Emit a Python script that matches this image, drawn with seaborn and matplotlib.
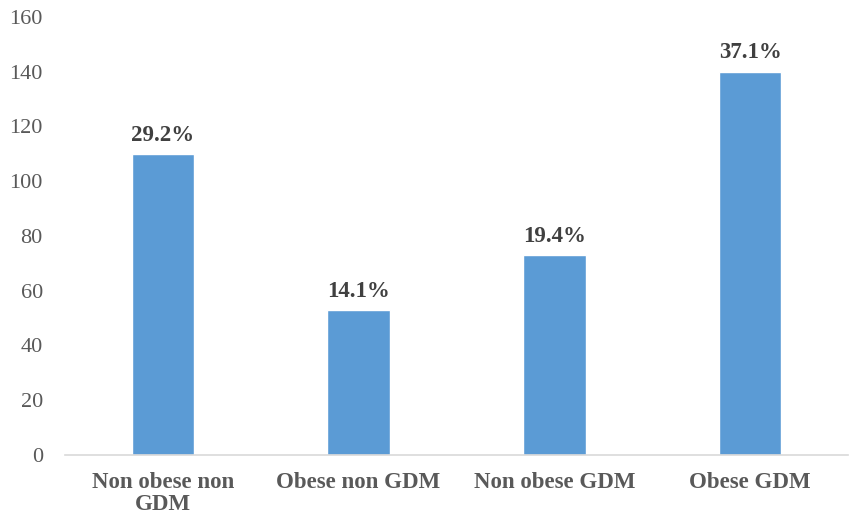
import matplotlib
matplotlib.use("Agg")
import matplotlib.pyplot as plt
import seaborn as sns
import pandas as pd

# Dados do gráfico
categories = ["Non obese non\nGDM", "Obese non GDM", "Non obese GDM", "Obese GDM"]
counts = [110, 53, 73, 140]
pct_labels = ["29.2%", "14.1%", "19.4%", "37.1%"]

sns.set_style("white")
plt.rcParams['font.family'] = ['Liberation Serif', 'DejaVu Serif']

df = pd.DataFrame({"group": categories, "n": counts})

fig = plt.figure(figsize=(8.51, 5.18), dpi=100)
ax = fig.add_axes([65 / 851, 1 - 455 / 518, (848 - 65) / 851, (455 - 17) / 518])

sns.barplot(data=df, x="group", y="n", color="#5B9BD5", width=0.32,
            saturation=1, ax=ax)

for i, (v, lab) in enumerate(zip(counts, pct_labels)):
    ax.annotate(lab, (i, v), xytext=(0, 6), textcoords="offset points",
                ha="center", va="bottom", fontsize=16.5, fontweight="bold",
                color="#404040")

ax.set_ylim(0, 160)
ax.set_yticks(range(0, 161, 20))
ax.set_xlabel("")
ax.set_ylabel("")
ax.tick_params(axis="y", length=0, labelsize=16, labelcolor="#595959", pad=16)
ax.tick_params(axis="x", length=0, labelsize=16.5, labelcolor="#595959", pad=12)
for t in ax.get_xticklabels():
    t.set_fontweight("bold")
    t.set_linespacing(1.1)

sns.despine(ax=ax, left=True)
ax.spines["bottom"].set_color("#D9D9D9")
ax.spines["bottom"].set_linewidth(1.2)

fig.savefig("out.png", dpi=100)
